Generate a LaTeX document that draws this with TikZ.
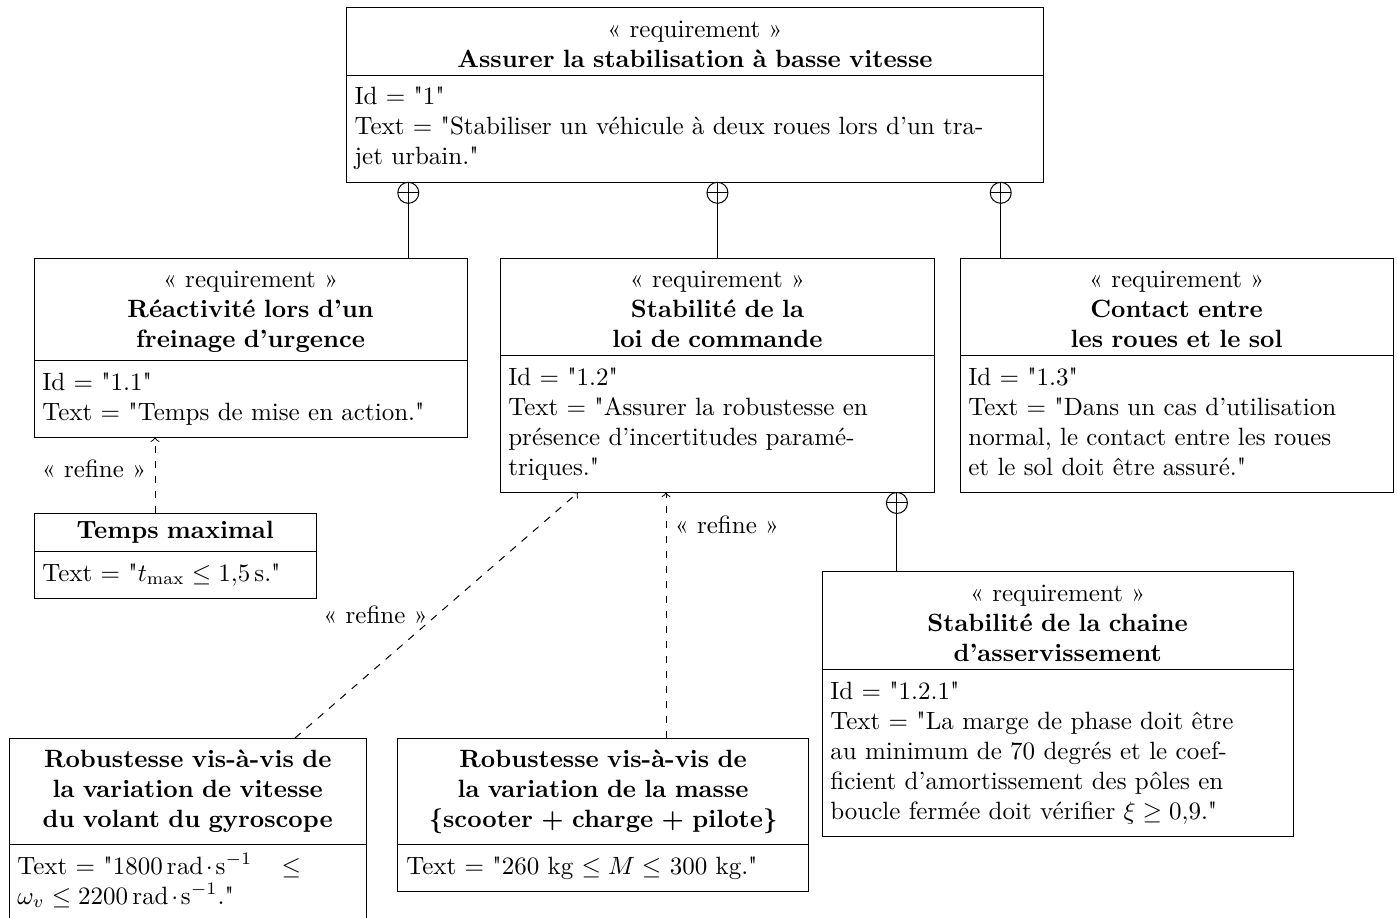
\documentclass[tikz,border=0pt]{standalone}
\usetikzlibrary{positioning}

\newcommand{\dq}{\textquotedbl}
\newcommand{\unite}{\mathrm{rad}\mkern2mu{\cdot}\mkern2mu\mathrm{s}^{-1}}

\tikzset{
  entete/.style={draw, text width=#1, align=center, outer sep=0pt},
  corps/.style={draw, text width=#1, align=left, outer sep=0pt},
  compo/.style={circle, draw, fill=white, inner sep=0pt, minimum size=8.4pt,
    outer sep=0pt,
    path picture={
      \draw (path picture bounding box.north) -- (path picture bounding box.south)
            (path picture bounding box.west) -- (path picture bounding box.east);}},
  refine/.style={->, dashed},
}

\begin{document}
\begin{tikzpicture}
    \useasboundingbox (0,0) rectangle (19.639,-12.905);

    % exigence principale
    \node[entete=272.3pt, anchor=north] (r1) at (9.77,-0.11)
        {\strut«~requirement~»\\\textbf{Assurer la stabilisation à basse vitesse}};
    \node[corps=272.3pt, below=0pt of r1] (r1t)
        {\strut Id = \dq1\dq\\Text = \dq Stabiliser un véhicule à deux roues lors d'un tra-\\jet urbain.\dq\strut};

    % sous-exigences
    \node[entete=166.6pt, anchor=north west] (r11) at (0.478,-3.627)
        {\strut«~requirement~»\\\textbf{Réactivité lors d'un\\freinage d'urgence}};
    \node[corps=166.6pt, below=0pt of r11] (r11t)
        {\strut Id = \dq1.1\dq\\Text = \dq Temps de mise en action.\dq\strut};

    \node[entete=167.3pt, anchor=north west] (r12) at (7.029,-3.627)
        {\strut«~requirement~»\\\textbf{Stabilité de la\\loi de commande}};
    \node[corps=167.3pt, below=0pt of r12] (r12t)
        {\strut Id = \dq1.2\dq\\Text = \dq Assurer la robustesse en\\présence d'incertitudes paramé-\\triques.\dq\strut};

    \node[entete=166.6pt, anchor=north west] (r13) at (13.496,-3.627)
        {\strut«~requirement~»\\\textbf{Contact entre\\les roues et le sol}};
    \node[corps=166.6pt, below=0pt of r13] (r13t)
        {\strut Id = \dq1.3\dq\\Text = \dq Dans un cas d'utilisation\\normal, le contact entre les roues\\et le sol doit être assuré.\dq\strut};

    \node[entete=181.8pt, anchor=north west] (r121) at (11.556,-8.041)
        {\strut«~requirement~»\\\textbf{Stabilité de la chaine\\d'asservissement}};
    \node[corps=181.8pt, below=0pt of r121] (r121t)
        {\strut Id = \dq1.2.1\dq\\Text = \dq La marge de phase doit être\\au minimum de 70 degrés et le coef-\\ficient d'amortissement des pôles en\\boucle fermée doit vérifier $\xi \geq 0{,}9$.\dq\strut};

    % elements de raffinement
    \node[entete=106.3pt, anchor=north west] (tmax) at (0.478,-7.212)
        {\textbf{Temps maximal}};
    \node[corps=106.3pt, below=0pt of tmax] (tmaxt)
        {\strut Text = \dq$t_{\max} \leq 1{,}5\,\mathrm{s}$.\dq\strut};

    \node[entete=136.3pt, anchor=north west] (gyro) at (0.127,-10.375)
        {\strut\textbf{Robustesse vis-à-vis de\\la variation de vitesse\\du volant du gyroscope}\strut};
    \node[corps=136.3pt, below=0pt of gyro] (gyrot)
        {\strut Text = \dq$1800\,\unite$~~~\,$\leq$\\$\omega_v \leq 2200\,\unite$.\dq\strut};

    \node[entete=157.4pt, anchor=north west] (masse) at (5.595,-10.375)
        {\strut\textbf{Robustesse vis-à-vis de\\la variation de la masse\\\{scooter + charge + pilote\}}\strut};
    \node[corps=157.4pt, below=0pt of masse] (masset)
        {\strut Text = \dq 260 kg $\leq M \leq$ 300 kg.\dq\strut};

    % liens de composition
    \node[compo, anchor=north] (c11) at ([xshift=0.872cm]r1t.south west) {};
    \node[compo, anchor=north] (c12) at (r12.north |- r1t.south) {};
    \node[compo, anchor=north] (c13) at ([xshift=-0.604cm]r1t.south east) {};
    \node[compo, anchor=north] (c121) at ([xshift=-0.534cm]r12t.south east) {};
    \draw (c11.south) -- (c11.south |- r11.north);
    \draw (c12.south) -- (r12.north);
    \draw (c13.south) -- (c13.south |- r13.north);
    \draw (c121.south) -- (c121.south |- r121.north);

    % liens refine
    \coordinate (a1) at ([xshift=1.701cm]tmax.north west);
    \draw[refine] (a1) -- (a1 |- r11t.south) node[pos=0.58, left] {«~refine~»};

    \coordinate (a2) at ([xshift=4.02cm]gyro.north west);
    \coordinate (b2) at ([xshift=1.097cm]r12t.south west);
    \draw[refine] (a2) -- (b2) node[midway, left] {«~refine~»};

    \coordinate (a3) at ([xshift=3.768cm]masse.north west);
    \draw[refine] (a3) -- (a3 |- r12t.south) node[pos=0.87, right] {«~refine~»};
\end{tikzpicture}
\end{document}
